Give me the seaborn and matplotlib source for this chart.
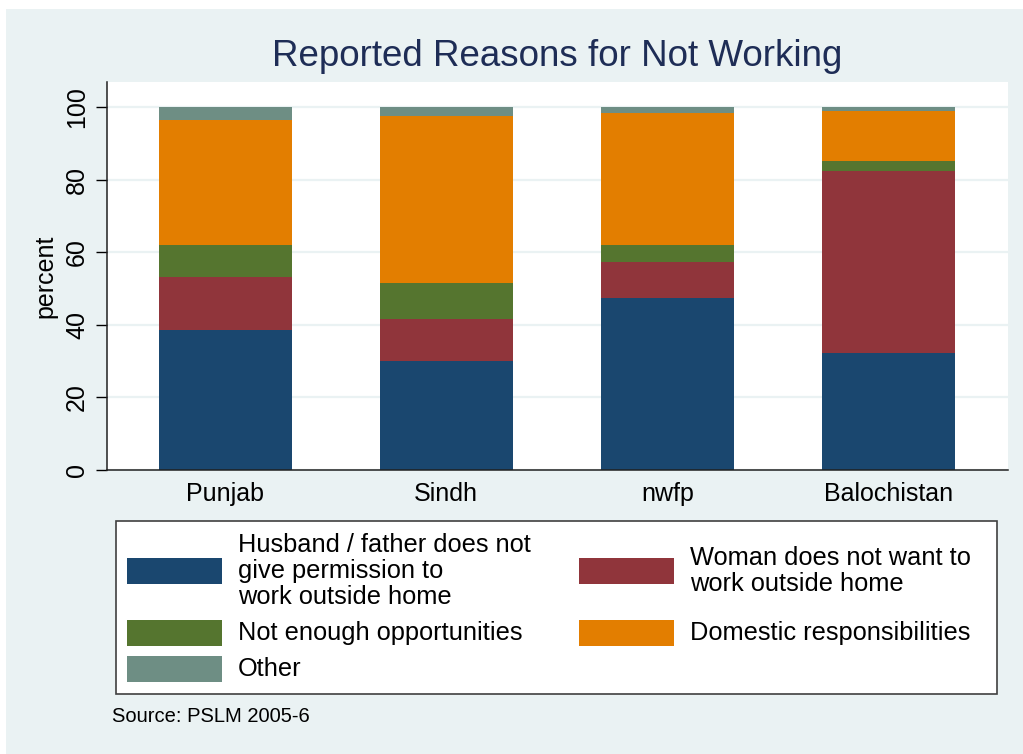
import numpy as np
import pandas as pd
import seaborn as sns
import matplotlib.pyplot as plt
from matplotlib.patches import Rectangle

# --- Data (percent of women) ---
regions = ["Punjab", "Sindh", "nwfp", "Balochistan"]
husband_no_permission = [38.7, 30.0, 47.3, 32.3]
woman_not_want = [14.4, 11.5, 9.9, 50.0]
not_enough_opps = [9.0, 10.1, 4.7, 2.8]
domestic_resp = [34.3, 46.0, 36.5, 13.7]
other = [3.6, 2.4, 1.6, 1.2]

labels = [
    "Husband / father does not\ngive permission to\nwork outside home",
    "Woman does not want to\nwork outside home",
    "Not enough opportunities",
    "Domestic responsibilities",
    "Other",
]
colors = ["#1a476f", "#90353b", "#55752f", "#e37e00", "#6e8e84"]
bg = "#eaf2f3"

# --- Stack: cumulative tops per layer ---
df = pd.DataFrame({
    "region": regions,
    "husband": husband_no_permission,
    "woman": woman_not_want,
    "opps": not_enough_opps,
    "domestic": domestic_resp,
    "other": other,
})
layers = ["husband", "woman", "opps", "domestic", "other"]
cum = df[layers].cumsum(axis=1)
cum["region"] = df["region"]

# --- Figure ---
sns.set_theme(style="white")
plt.rcParams["font.family"] = ["Liberation Sans", "DejaVu Sans"]

W, H = 1023, 754
fig = plt.figure(figsize=(W / 100, H / 100), dpi=100, facecolor=bg)
ax = fig.add_axes([107 / W, 1 - 470 / H, (1007.7 - 107) / W, (470 - 81.7) / H])
ax.set_facecolor("white")

# draw tallest layer first so lower layers sit on top of it
for layer, color in reversed(list(zip(layers, colors))):
    sns.barplot(data=cum, x="region", y=layer, order=regions, color=color,
                saturation=1, width=0.6, errorbar=None, ax=ax, zorder=2,
                linewidth=0)

ax.set_xlim(-0.535, 3.54)
ax.set_ylim(0, 107)
ax.set_yticks([0, 20, 40, 60, 80, 100])
ax.yaxis.grid(True, color=bg, lw=1.6, zorder=0)
ax.set_axisbelow(True)

for s in ["top", "right"]:
    ax.spines[s].set_visible(False)
for s in ["left", "bottom"]:
    ax.spines[s].set_color("#202020")
    ax.spines[s].set_linewidth(1.1)

ax.tick_params(axis="y", labelrotation=90, length=8, width=1, pad=5,
               labelsize=18, colors="black", left=True)
ax.tick_params(axis="x", length=0, pad=9, labelsize=18, colors="black")
for t in ax.get_yticklabels():
    t.set_va("center")

ax.set_xlabel("")
ax.set_ylabel("percent", fontsize=18, color="black")
ax.yaxis.set_label_coords(-0.055, 0.5)

ax.set_title("Reported Reasons for Not Working", fontsize=26.5, color="#1e2d56", pad=11)

# --- Legend box (Stata style, rows aligned across columns) ---
def fx(x):
    return x / W

def fy(y):
    return 1 - y / H

fig.add_artist(Rectangle((fx(116), fy(694)), fx(997) - fx(116), (694 - 521) / H,
                         transform=fig.transFigure, facecolor="white",
                         edgecolor="#404040", lw=1.2))

slots = [(127, 571), (579, 571), (127, 633), (579, 633), (127, 669)]
for (px, py), lab, col in zip(slots, labels, colors):
    fig.add_artist(Rectangle((fx(px), fy(py + 13)), 95 / W, 26 / H,
                             transform=fig.transFigure, facecolor=col,
                             edgecolor="none"))
    fig.text(fx(px + 111), fy(py), lab, fontsize=18.3, va="center", ha="left",
             linespacing=1.12, color="black")

fig.text(fx(112), fy(716), "Source: PSLM 2005-6", fontsize=14.5, va="center",
         ha="left", color="black")

# thin white margin along the left and top edges
fig.add_artist(Rectangle((0, 0), 6 / W, 1, transform=fig.transFigure,
                         facecolor="white", edgecolor="none"))
fig.add_artist(Rectangle((0, 1 - 9 / H), 1, 9 / H, transform=fig.transFigure,
                         facecolor="white", edgecolor="none"))

fig.savefig("out.png", dpi=100, facecolor=bg)
